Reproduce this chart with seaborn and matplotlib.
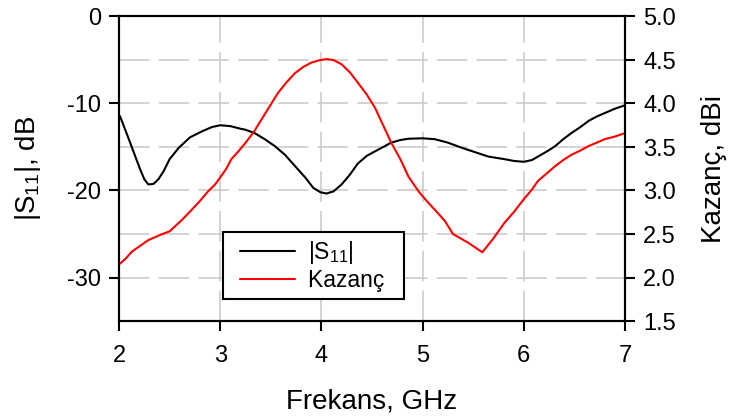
import matplotlib
matplotlib.use("Agg")
import matplotlib.pyplot as plt
import seaborn as sns
import pandas as pd
from matplotlib.lines import Line2D
from matplotlib.legend_handler import HandlerLine2D

# Return loss |S11| (dB) versus frequency (GHz)
freq_s11 = [2.01, 2.11, 2.21, 2.25, 2.29, 2.34, 2.39, 2.44, 2.50, 2.59, 2.70, 2.82,
            2.92, 3.0, 3.10, 3.20, 3.245, 3.34, 3.44, 3.54, 3.64, 3.74, 3.84, 3.92,
            3.99, 4.05, 4.12, 4.20, 4.28, 4.36, 4.45, 4.53, 4.61, 4.69, 4.78, 4.86,
            5.0, 5.12, 5.25, 5.39, 5.52, 5.65, 5.81, 5.90, 6.0, 6.08, 6.14, 6.23,
            6.31, 6.39, 6.47, 6.56, 6.64, 6.72, 6.80, 6.90, 7.0]
s11_db = [-11.45, -14.5, -17.6, -18.7, -19.3, -19.25, -18.7, -17.8, -16.4, -15.1,
          -13.9, -13.2, -12.7, -12.5, -12.6, -12.9, -13.0, -13.4, -14.1, -14.9,
          -15.9, -17.2, -18.5, -19.7, -20.2, -20.35, -20.1, -19.3, -18.2, -16.9,
          -16.0, -15.5, -15.0, -14.5, -14.2, -14.05, -14.0, -14.1, -14.5, -15.1,
          -15.6, -16.1, -16.4, -16.6, -16.7, -16.5, -16.1, -15.5, -14.9, -14.1,
          -13.4, -12.7, -12.0, -11.5, -11.1, -10.6, -10.2]

# Gain (dBi) versus frequency (GHz)
freq_gain = [2.0, 2.06, 2.13, 2.29, 2.45, 2.50, 2.62, 2.72, 2.80, 2.88, 2.95, 3.0,
             3.06, 3.11, 3.18, 3.245, 3.33, 3.41, 3.49, 3.57, 3.66, 3.74, 3.82, 3.90,
             3.99, 4.05, 4.12, 4.20, 4.28, 4.36, 4.45, 4.53, 4.61, 4.69, 4.78, 4.86,
             4.96, 5.04, 5.12, 5.22, 5.30, 5.45, 5.59, 5.70, 5.81, 5.90, 6.0, 6.08,
             6.14, 6.23, 6.31, 6.39, 6.47, 6.56, 6.64, 6.72, 6.80, 6.90, 7.0]
gain_dbi = [2.15, 2.21, 2.30, 2.43, 2.51, 2.53, 2.66, 2.78, 2.88, 2.99, 3.07, 3.15,
            3.25, 3.36, 3.45, 3.54, 3.67, 3.82, 3.97, 4.12, 4.25, 4.35, 4.42, 4.47,
            4.50, 4.51, 4.50, 4.45, 4.36, 4.24, 4.10, 3.95, 3.75, 3.55, 3.36, 3.16,
            2.99, 2.88, 2.78, 2.65, 2.50, 2.40, 2.29, 2.45, 2.63, 2.75, 2.90, 3.01,
            3.11, 3.20, 3.28, 3.35, 3.41, 3.46, 3.51, 3.55, 3.59, 3.62, 3.66]

x_ticks = [2, 3, 4, 5, 6, 7]
left_ticks = [0, -10, -20, -30]
right_ticks = [1.5, 2.0, 2.5, 3.0, 3.5, 4.0, 4.5, 5.0]

sns.set_theme(style="white")
plt.rcParams["font.family"] = ["Liberation Sans", "DejaVu Sans"]
plt.rcParams["mathtext.fontset"] = "custom"
plt.rcParams["mathtext.rm"] = "Liberation Sans"
plt.rcParams["mathtext.default"] = "regular"
plt.rcParams["axes.unicode_minus"] = False
for key in ("text.color", "axes.labelcolor", "xtick.color", "ytick.color",
            "xtick.labelcolor", "ytick.labelcolor"):
    plt.rcParams[key] = "black"

df_s11 = pd.DataFrame({"f": freq_s11, "v": s11_db})
df_gain = pd.DataFrame({"f": freq_gain, "v": gain_dbi})

fig = plt.figure(figsize=(7.3, 4.19), dpi=100)
fig.patch.set_facecolor("white")
ax = fig.add_axes([119 / 730, 1 - 321 / 419, (625 - 119) / 730, (321 - 16.5) / 419])
ax2 = ax.twinx()

grid_kw = dict(color="#c8c8c8", linewidth=1.1, dashes=(20, 6), zorder=0)
for xv in [3, 4, 5, 6]:
    ax.axvline(xv, **grid_kw)
for yv in [-5, -10, -15, -20, -25, -30]:
    ax.axhline(yv, **grid_kw)

sns.lineplot(data=df_s11, x="f", y="v", ax=ax, color="black", linewidth=1.5,
             sort=False, estimator=None)
sns.lineplot(data=df_gain, x="f", y="v", ax=ax2, color="#ff0000", linewidth=1.5,
             sort=False, estimator=None)

ax.set_xlim(2, 7)
ax.set_ylim(-35, 0)
ax2.set_ylim(1.5, 5.0)
ax.set_xticks(x_ticks)
ax.set_yticks(left_ticks)
ax2.set_yticks(right_ticks)
ax2.set_yticklabels([f"{t:.1f}" for t in right_ticks])

ax.set_xlabel("Frekans, GHz", fontsize=20, labelpad=16)
ax.set_ylabel("$|S_{11}|$, dB", fontsize=20, labelpad=17)
ax2.set_ylabel("Kazanç, dBi", fontsize=20, labelpad=18)

for a in (ax, ax2):
    for s in a.spines.values():
        s.set_color("black")
        s.set_linewidth(1.5)
ax.tick_params(axis="x", direction="out", length=7, width=1.5, color="black",
               labelsize=17, pad=10, bottom=True)
ax.tick_params(axis="y", direction="out", length=7, width=1.5, color="black",
               labelsize=17, pad=6, left=True)
ax2.tick_params(axis="y", direction="out", length=7, width=1.5, color="black",
                labelsize=17, pad=6, right=True)

handles = [Line2D([], [], color="black", linewidth=1.5),
           Line2D([], [], color="#ff0000", linewidth=1.5)]
inset = HandlerLine2D(numpoints=2, marker_pad=0.44)
leg = ax2.legend(handles, ["$|S_{11}|$", "Kazanç  "], loc="upper left",
                 bbox_to_anchor=(0.2055, 0.292), borderaxespad=0, fontsize=16.5,
                 frameon=True, fancybox=False, handlelength=3.27,
                 handletextpad=0.13, labelspacing=0.12, borderpad=0.3,
                 handler_map={Line2D: inset})
leg.get_frame().set_edgecolor("black")
leg.get_frame().set_linewidth(1.5)
leg.get_frame().set_alpha(1)

fig.savefig("out.png", dpi=100, facecolor="white")
